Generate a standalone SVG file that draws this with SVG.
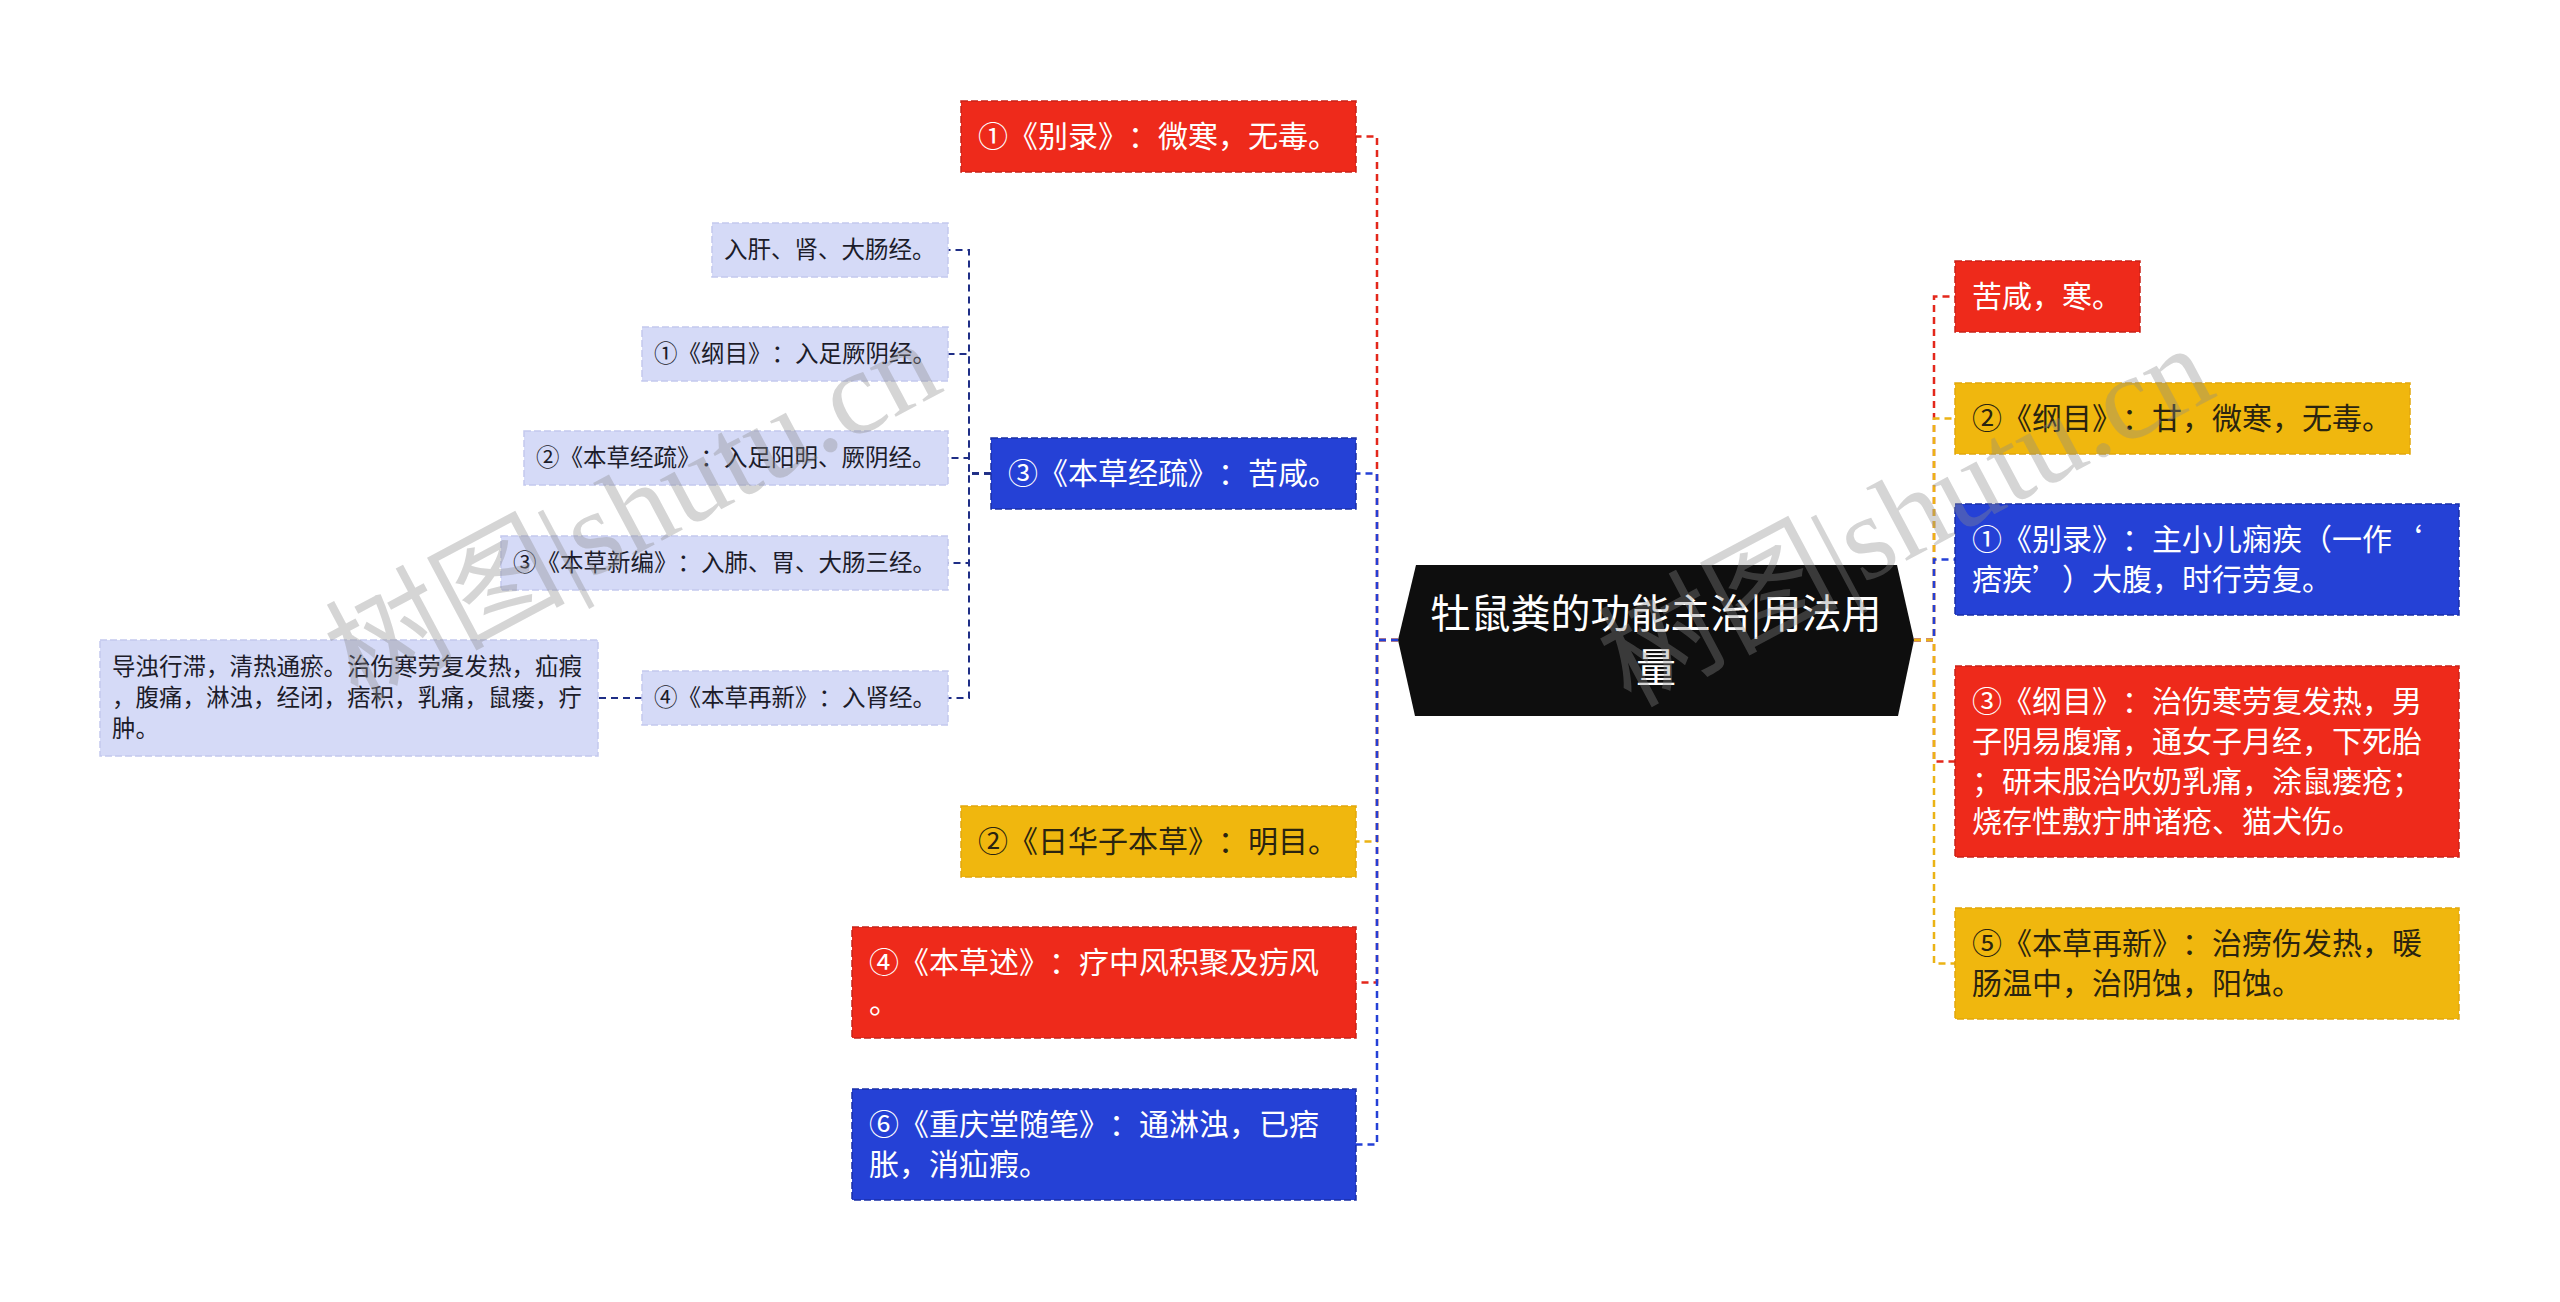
<svg xmlns="http://www.w3.org/2000/svg" width="2560" height="1302" viewBox="0 0 2560 1302">
<style>
  text { font-family: "Noto Sans CJK SC", "Noto Sans", sans-serif; text-spacing-trim: space-all; }
  .t1 { font-size: 30px; }
  .t2 { font-size: 23.5px; fill: #1c1c2a; }
  .w { fill: #ffffff; }
  .d { fill: #2a2410; }
  .red { fill: #EE2A1B; stroke: #C9231A; stroke-width: 1.5; stroke-dasharray: 7 3; }
  .blue { fill: #2541D6; stroke: #1A2FA8; stroke-width: 1.5; stroke-dasharray: 7 3; }
  .yel { fill: #F0B70E; stroke: #E2A80C; stroke-width: 1.5; stroke-dasharray: 7 3; }
  .lite { fill: #D5DAF7; stroke: #C3C9EE; stroke-width: 1.5; stroke-dasharray: 7 3; }
  .c { fill: none; stroke-width: 2.5; stroke-dasharray: 7 5; }
  .cr { stroke: #E3271B; }
  .cb { stroke: #2440D6; }
  .cy { stroke: #EBB315; }
  .cn { fill: none; stroke: #1F2E86; stroke-width: 2; stroke-dasharray: 7 5; }
  .wm { font-family: "Liberation Serif", "Noto Sans CJK SC", serif; font-size: 120px; fill: #8a8a8a; fill-opacity: 0.36; text-spacing-trim: normal; }
</style>

<rect x="0" y="0" width="2560" height="1302" fill="#ffffff"/>

<g id="connectors">
  <path class="c cr" d="M1398 640 H1377 V136.5 H1356"/>
  <path class="c cb" d="M1398 640 H1377 V473.5 H1356"/>
  <path class="c cy" d="M1398 640 H1377 V841.5 H1356"/>
  <path class="c cr" d="M1398 640 H1377 V982.5 H1356"/>
  <path class="c cb" d="M1398 640 H1377 V1144.5 H1356"/>

  <path class="c cr" d="M1914 640 H1934 V296.5 H1955"/>
  <path class="c cy" d="M1914 640 H1934 V418.5 H1955"/>
  <path class="c cb" d="M1914 640 H1934 V559.5 H1955"/>
  <path class="c cr" d="M1914 640 H1934 V761.5 H1955"/>
  <path class="c cy" d="M1914 640 H1934 V963.5 H1955"/>

  <path class="cn" d="M991 473.5 H969 V250 H948"/>
  <path class="cn" d="M991 473.5 H969 V354 H948"/>
  <path class="cn" d="M991 473.5 H969 V458 H948"/>
  <path class="cn" d="M991 473.5 H969 V563 H948"/>
  <path class="cn" d="M991 473.5 H969 V698 H948"/>
  <path class="cn" d="M642 698 H598"/>
</g>

<g id="root">
  <polygon points="1398,640 1416,565 1897,565 1914,640 1898,716 1415,716" fill="#0E0E0E"/>
  <text x="1656" y="628" text-anchor="middle" font-size="40" fill="#ffffff">牡鼠粪的功能主治|用法用</text>
  <text x="1656" y="682" text-anchor="middle" font-size="40" fill="#ffffff">量</text>
</g>

<g id="n-bielu-left">
  <rect class="red" x="961" y="101" width="395" height="71"/>
  <text class="t1 w" x="978" y="147">①《别录》：微寒，无毒。</text>
</g>

<g id="n-jingshu">
  <rect class="blue" x="991" y="438" width="365" height="71"/>
  <text class="t1 w" x="1008" y="484">③《本草经疏》：苦咸。</text>
</g>

<g id="n-rihuazi">
  <rect class="yel" x="961" y="806" width="395" height="71"/>
  <text class="t1 d" x="978" y="852">②《日华子本草》：明目。</text>
</g>

<g id="n-bencaoshu">
  <rect class="red" x="852" y="927" width="504" height="111"/>
  <text class="t1 w" x="869" y="973">④《本草述》：疗中风积聚及疠风<tspan x="869" dy="40">。</tspan></text>
</g>

<g id="n-chongqingtang">
  <rect class="blue" x="852" y="1089" width="504" height="111"/>
  <text class="t1 w" x="869" y="1135">⑥《重庆堂随笔》：通淋浊，已痞<tspan x="869" dy="40">胀，消疝瘕。</tspan></text>
</g>

<g id="c-rugan">
  <rect class="lite" x="712" y="223" width="236" height="54"/>
  <text class="t2" x="724" y="258">入肝、肾、大肠经。</text>
</g>

<g id="c-gangmu">
  <rect class="lite" x="642" y="327" width="306" height="54"/>
  <text class="t2" x="654" y="362">①《纲目》：入足厥阴经。</text>
</g>

<g id="c-jingshu">
  <rect class="lite" x="524" y="431" width="424" height="54"/>
  <text class="t2" x="536" y="466">②《本草经疏》：入足阳明、厥阴经。</text>
</g>

<g id="c-xinbian">
  <rect class="lite" x="501" y="536" width="447" height="54"/>
  <text class="t2" x="513" y="571">③《本草新编》：入肺、胃、大肠三经。</text>
</g>

<g id="c-zaixin">
  <rect class="lite" x="642" y="671" width="306" height="54"/>
  <text class="t2" x="654" y="706">④《本草再新》：入肾经。</text>
</g>

<g id="c-daozhuo">
  <rect class="lite" x="100" y="640" width="498" height="116"/>
  <text class="t2" x="112" y="675">导浊行滞，清热通瘀。治伤寒劳复发热，疝瘕<tspan x="112" dy="31">，腹痛，淋浊，经闭，痞积，乳痛，鼠瘘，疔</tspan><tspan x="112" dy="31">肿。</tspan></text>
</g>

<g id="n-kuxian">
  <rect class="red" x="1955" y="261" width="185" height="71"/>
  <text class="t1 w" x="1972" y="307">苦咸，寒。</text>
</g>

<g id="n-gangmu2">
  <rect class="yel" x="1955" y="383" width="455" height="71"/>
  <text class="t1 d" x="1972" y="429">②《纲目》：甘，微寒，无毒。</text>
</g>

<g id="n-bielu-right">
  <rect class="blue" x="1955" y="504" width="504" height="111"/>
  <text class="t1 w" x="1972" y="550">①《别录》：主小儿痫疾（一作‘<tspan x="1972" dy="40">痞疾’）大腹，时行劳复。</tspan></text>
</g>

<g id="n-gangmu3">
  <rect class="red" x="1955" y="666" width="504" height="191"/>
  <text class="t1 w" x="1972" y="712">③《纲目》：治伤寒劳复发热，男<tspan x="1972" dy="40">子阴易腹痛，通女子月经，下死胎</tspan><tspan x="1972" dy="40">；研末服治吹奶乳痛，涂鼠瘘疮；</tspan><tspan x="1972" dy="40">烧存性敷疔肿诸疮、猫犬伤。</tspan></text>
</g>

<g id="n-zaixin5">
  <rect class="yel" x="1955" y="908" width="504" height="111"/>
  <text class="t1 d" x="1972" y="954">⑤《本草再新》：治痨伤发热，暖<tspan x="1972" dy="40">肠温中，治阴蚀，阳蚀。</tspan></text>
</g>

<g id="watermark">
  <text class="wm" x="357" y="703" transform="rotate(-28 357 703)">树图|shutu.cn</text>
  <text class="wm" x="1630" y="708" transform="rotate(-28 1630 708)">树图|shutu.cn</text>
</g>
</svg>
